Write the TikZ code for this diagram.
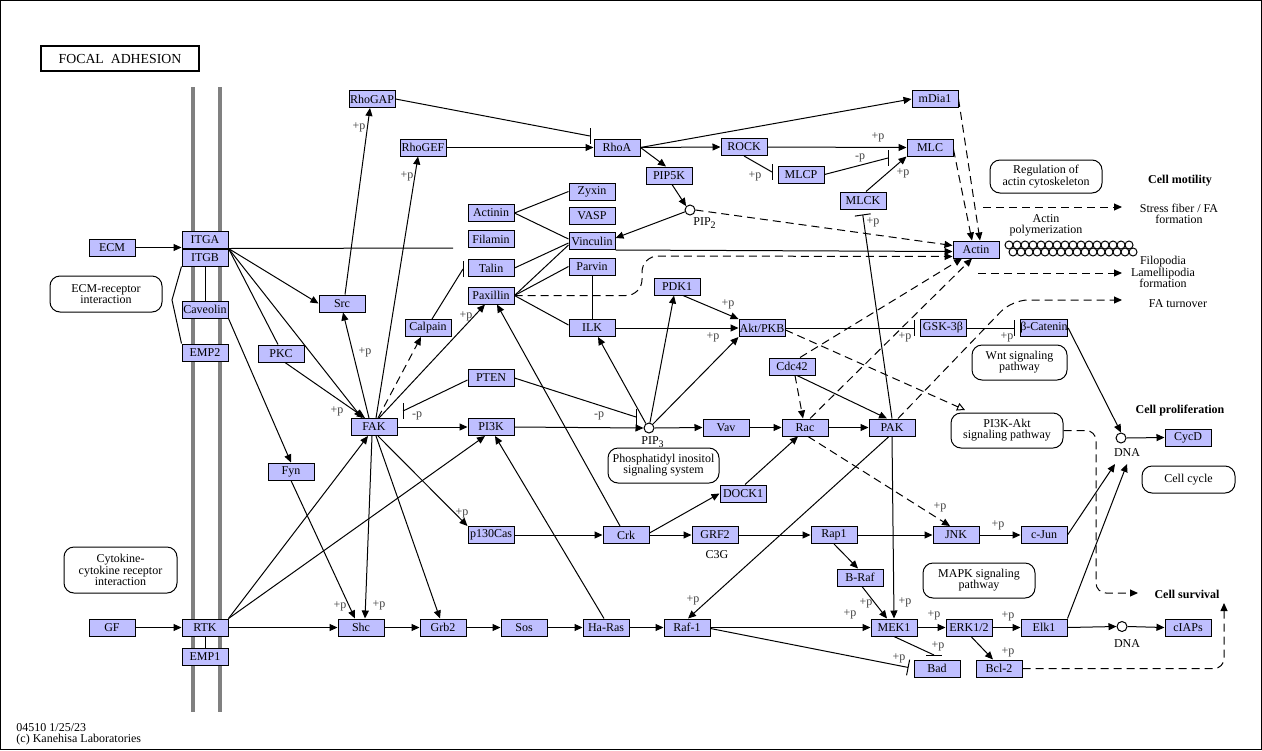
\documentclass[tikz,border=0pt]{standalone}
\usepackage{fontspec}
\setmainfont{Liberation Serif}
\usetikzlibrary{arrows.meta,calc,positioning}
\definecolor{genefill}{RGB}{191,191,255}
\definecolor{membrane}{RGB}{128,128,128}
\newcommand{\inhbar}[1]{\draw ($(#1)+(0,-8)$) -- ($(#1)+(0,8)$);}
\newcommand{\flatbar}[1]{\draw ($(#1)+(-8,0)$) -- ($(#1)+(8,0)$);}
\tikzset{
  gene/.style={draw, fill=genefill, minimum width=23pt, minimum height=8.5pt, inner sep=0pt, font=\fontsize{6}{7}\selectfont},
  cpd/.style={draw, circle, minimum size=5pt, inner sep=0pt, fill=white},
  pmap/.style={draw, rounded corners=5pt, align=center, inner sep=0pt, font=\fontsize{6}{5.6}\selectfont},
  txt/.style={align=center, inner sep=0pt, font=\fontsize{6}{5.6}\selectfont},
  boldlab/.style={inner sep=0pt, font=\fontsize{6}{7}\selectfont\bfseries},
  plab/.style={inner sep=0pt, text=black!75, font=\fontsize{6}{7}\selectfont},
  act/.style={-{Triangle[length=4pt,width=3.5pt]}},
  dact/.style={act, dash pattern=on 4pt off 2.5pt},
  inh/.style={-{Bar[width=8pt]}, shorten >=2.5pt},
}

\begin{document}
\begin{tikzpicture}[x=0.5pt, y=-0.5pt, line width=0.5pt]
    \useasboundingbox (0,0) rectangle (1262,750);
    \draw (0.5,0.5) rectangle (1261.5,749.5);
    \node[draw, line width=1pt, minimum width=79pt, minimum height=12.5pt, inner sep=0pt, font=\fontsize{6.9}{8}\selectfont] (title) at (120,58.5) {FOCAL\ \ ADHESION};

    \draw[membrane, line width=2pt] (193,87) -- (193,712);
    \draw[membrane, line width=2pt] (220,87) -- (220,712);

    % genes
    \node[gene] (ECM) at (112,247.5) {ECM};
    \node[gene] (ITGA) at (205,239.5) {ITGA};
    \node[gene] (ITGB) at (205,257.5) {ITGB};
    \node[gene] (Caveolin) at (205,309.5) {Caveolin};
    \node[gene] (EMP2) at (205,352.5) {EMP2};
    \node[gene] (PKC) at (281,353.5) {PKC};
    \node[gene] (Fyn) at (291,471.5) {Fyn};
    \node[gene] (Src) at (342,303.5) {Src};
    \node[gene] (RhoGAP) at (372,99) {RhoGAP};
    \node[gene] (RhoGEF) at (423,147.5) {RhoGEF};
    \node[gene] (Calpain) at (428,328) {Calpain};
    \node[gene] (FAK) at (374,427) {FAK};
    \node[gene] (Actinin) at (491,213) {Actinin};
    \node[gene] (Filamin) at (491,239) {Filamin};
    \node[gene] (Talin) at (491,268) {Talin};
    \node[gene] (Paxillin) at (491,295.5) {Paxillin};
    \node[gene] (PTEN) at (491,378) {PTEN};
    \node[gene] (PI3K) at (491,427) {PI3K};
    \node[gene] (Zyxin) at (592,191.5) {Zyxin};
    \node[gene] (VASP) at (592,216) {VASP};
    \node[gene] (Vinculin) at (592,241) {Vinculin};
    \node[gene] (Parvin) at (592,266.5) {Parvin};
    \node[gene] (ILK) at (592,328) {ILK};
    \node[gene] (RhoA) at (617,147.5) {RhoA};
    \node[gene] (PIP5K) at (669,175.5) {PIP5K};
    \node[gene] (ROCK) at (744,147) {ROCK};
    \node[gene] (MLCP) at (801,174.5) {MLCP};
    \node[gene] (MLC) at (930,147.5) {MLC};
    \node[gene] (mDia1) at (935,99) {mDia1};
    \node[gene] (MLCK) at (863,200.5) {MLCK};
    \node[gene] (Actin) at (976,249.5) {Actin};
    \node[gene] (PDK1) at (677,286.5) {PDK1};
    \node[gene] (Akt) at (762,328) {Akt/PKB};
    \node[gene] (Cdc42) at (792,366.5) {Cdc42};
    \node[gene] (GSK) at (943,328) {GSK-3β};
    \node[gene] (Bcat) at (1044,328) {β-Catenin};
    \node[gene] (Vav) at (726,427.5) {Vav};
    \node[gene] (Rac) at (805,427.5) {Rac};
    \node[gene] (PAK) at (892,427.5) {PAK};
    \node[gene] (DOCK1) at (743,493.5) {DOCK1};
    \node[gene] (p130Cas) at (491,535) {p130Cas};
    \node[gene] (Crk) at (626,535) {Crk};
    \node[gene] (GRF2) at (715,535) {GRF2};
    \node[gene] (Rap1) at (834,535) {Rap1};
    \node[gene] (BRaf) at (860,577.5) {B-Raf};
    \node[gene] (JNK) at (956,535) {JNK};
    \node[gene] (cJun) at (1044,535) {c-Jun};
    \node[gene] (GF) at (112,627.5) {GF};
    \node[gene] (RTK) at (205,627.5) {RTK};
    \node[gene] (EMP1) at (205,656.5) {EMP1};
    \node[gene] (Shc) at (361,627.5) {Shc};
    \node[gene] (Grb2) at (443,627.5) {Grb2};
    \node[gene] (Sos) at (524,627.5) {Sos};
    \node[gene] (HaRas) at (606,627.5) {Ha-Ras};
    \node[gene] (Raf1) at (687,627.5) {Raf-1};
    \node[gene] (MEK1) at (894,627.5) {MEK1};
    \node[gene] (ERK) at (969,627.5) {ERK1/2};
    \node[gene] (Elk1) at (1044,627.5) {Elk1};
    \node[gene] (Bad) at (937,668.5) {Bad};
    \node[gene] (Bcl2) at (999,668.5) {Bcl-2};
    \node[gene] (cIAPs) at (1188,627.5) {cIAPs};
    \node[gene] (CycD) at (1188,437.5) {CycD};

    % compounds
    \node[cpd] (PIP2) at (690,210) {};
    \node[txt] (pip2lab) at (705,223) {PIP\textsubscript{2}};
    \node[cpd] (PIP3) at (649,428) {};
    \node[txt] (pip3lab) at (653,442) {PIP\textsubscript{3}};
    \node[cpd] (DNA1) at (1121,438) {};
    \node[txt] (dna1lab) at (1127,453) {DNA};
    \node[cpd] (DNA2) at (1122,626.5) {};
    \node[txt] (dna2lab) at (1127,644) {DNA};
    \node[txt] (c3g) at (717,555) {C3G};

    % pathway maps
    \node[pmap, minimum width=56pt, minimum height=18pt] (ECMmap) at (106,294) {ECM-receptor\\interaction};
    \node[pmap, minimum width=56.5pt, minimum height=23pt] (Cytomap) at (120.5,570) {Cytokine-\\cytokine receptor\\interaction};
    \node[pmap, minimum width=55.5pt, minimum height=17.5pt] (PImap) at (663.5,465.5) {Phosphatidyl inositol\\signaling system};
    \node[pmap, minimum width=56pt, minimum height=16.5pt] (Actmap) at (1046,176.5) {Regulation of\\actin cytoskeleton};
    \node[pmap, minimum width=47.5pt, minimum height=17.5pt] (Wntmap) at (1019.5,362.5) {Wnt signaling\\pathway};
    \node[pmap, minimum width=56pt, minimum height=17.5pt] (PI3Kmap) at (1007,430.5) {PI3K-Akt\\signaling pathway};
    \node[pmap, minimum width=46.5pt, minimum height=13.5pt] (CCmap) at (1188.5,479.5) {Cell cycle};
    \node[pmap, minimum width=56pt, minimum height=17.5pt] (MAPKmap) at (979,580.5) {MAPK signaling\\pathway};

    % outcomes
    \node[boldlab] (motil) at (1180,181) {Cell motility};
    \node[txt] (stress) at (1179,214) {Stress fiber / FA\\formation};
    \node[txt] (poly) at (1046,225) {Actin\\polymerization};
    \node[txt] (filo) at (1163,272) {Filopodia\\Lamellipodia\\formation};
    \node[txt] (faturnlab) at (1178,304) {FA turnover};
    \node[boldlab] (prolif) at (1180,411) {Cell proliferation};
    \node[boldlab] (surv) at (1187,594) {Cell survival};
    \node[txt, anchor=west] (mapid) at (16,728) {04510 1/25/23};
    \node[txt, anchor=west] (copy) at (16,739.5) {(c) Kanehisa Laboratories};

    % integrin side
    \draw[act] (ECM.east) -- (ECM.east -| ITGA.west);
    \coordinate (itgend) at (453,248);
    \draw (ITGA.south east) -- (itgend);
    \draw[act] (ITGB.north east) -- (Src.west);
    \draw[act] (ITGB.north east) -- ($(FAK.north)+(-12,0)$);
    \draw (ITGB.north east) -- ($(PKC.north)+(-3,0)$);
    \draw[act] ($(PKC.south)+(4,0)$) -- ($(FAK.north)+(-9,0)$);
    \draw (ITGB.south west) -- (172,300) -- (EMP2.north west);
    \draw (ITGB.south) -- (Caveolin.north);
    \draw[act] (Caveolin.south east) -- (Fyn.north);
    \draw[act] ($(FAK.north)+(-5,0)$) -- ($(Src.south)+(1,0)$);
    \draw[act] ($(Src.north)+(3,0)$) -- ($(RhoGAP.south)+(-2,0)$);
    \draw[act] ($(FAK.north)+(2,0)$) -- ($(RhoGEF.south)+(-5,0)$);
    \draw[dact] ($(FAK.north)+(4,0)$) -- ($(Calpain.south)+(-7,0)$);
    \coordinate (talbar) at (463,269);
    \draw ($(Calpain.north)+(4,0)$) -- (talbar);
    \inhbar{talbar}
    \draw[act] ($(FAK.north)+(5,0)$) -- ($(Paxillin.south)+(-6,0)$);
    \draw[act] (FAK.east) -- (PI3K.west);
    \coordinate (ptenbar) at (403,411);
    \draw ($(PTEN.west)+(0,2)$) -- (ptenbar);
    \inhbar{ptenbar}
    \coordinate (pipbar) at (636,417);
    \draw (PTEN.east) -- (pipbar);
    \inhbar{pipbar}
    \draw[act] (PI3K.east) -- (PIP3.west);
    \draw[act] ($(FAK.south)+(-2,0)$) -- ($(Shc.north)+(4,0)$);
    \draw[act] (Fyn.south) -- ($(Shc.north)+(-6,0)$);
    \draw[act] ($(FAK.south)+(2,0)$) -- ($(Grb2.north)+(-3,0)$);
    \draw[act] ($(FAK.south)+(4,0)$) -- (p130Cas.north west);
    \draw[act] (RTK.north east) -- ($(FAK.south)+(-6,0)$);
    \draw[act] (RTK.north east) -- ($(PI3K.south)+(-6,0)$);
    \draw[act] (RTK.east) -- (Shc.west);
    \draw[act] (GF.east) -- (RTK.west);
    \draw (RTK.south) -- (EMP1.north);

    % ras / mapk
    \draw[act] (Shc.east) -- (Grb2.west);
    \draw[act] (Grb2.east) -- (Sos.west);
    \draw[act] (Sos.east) -- (HaRas.west);
    \draw[act] (HaRas.east) -- (Raf1.west);
    \draw[act] ($(HaRas.north)+(-2,0)$) -- ($(PI3K.south)+(4,0)$);
    \draw[act] ($(Crk.north)+(-6,0)$) -- ($(Paxillin.south)+(6,0)$);
    \draw[act] (p130Cas.east) -- (Crk.west);
    \draw[act] ($(Crk.east)+(0,-2)$) -- (DOCK1.west);
    \draw[act] (Crk.east) -- (GRF2.west);
    \draw[act] ($(DOCK1.north)+(2,0)$) -- ($(Rac.south)+(-7,0)$);
    \draw[act] (GRF2.east) -- (Rap1.west);
    \draw[act] (Rap1.east) -- (JNK.west);
    \draw[act] (Rap1.south) -- ($(BRaf.north)+(-2,0)$);
    \draw[act] ($(BRaf.south)+(2,0)$) -- ($(MEK1.north)+(-7,0)$);
    \draw[act] (PAK.south) -- (MEK1.north);
    \draw[act] ($(PAK.south)+(-3,0)$) -- ($(Raf1.north)+(1,0)$);
    \draw[act] (Raf1.east) -- (MEK1.west);
    \draw[inh] ($(Raf1.east)+(0,1)$) -- (Bad.west);
    \coordinate (badbar) at (934,655);
    \draw (MEK1.south) -- (badbar);
    \flatbar{badbar}
    \draw[act] (MEK1.east) -- (ERK.west);
    \draw[act] (ERK.east) -- (Elk1.west);
    \draw[act] ($(ERK.south)+(2,0)$) -- ($(Bcl2.north)+(-6,0)$);
    \draw[act] (Elk1.east) -- (DNA2.west);
    \draw[act] (DNA2.east) -- (cIAPs.west);
    \coordinate (dnain1) at (1115,464);
    \coordinate (dnain2) at (1127,464);
    \draw[act] (cJun.east) -- (dnain1);
    \draw[act] (Elk1.north east) -- (dnain2);
    \draw[act] (Bcat.east) -- (DNA1.north);
    \draw[act] (DNA1.east) -- (CycD.west);
    \draw[act] (JNK.east) -- (cJun.west);
    \coordinate (survtip) at (1224,603);
    \draw[dact, rounded corners=5pt] (Bcl2.east) -- (Bcl2.east -| survtip) -- (survtip);
    \coordinate (survtip2) at (1138,593);
    \draw[dact, rounded corners=5pt] (PI3Kmap.east) -- (1096,430.5) -- (1096,593) -- (survtip2);

    % pi3k / rho
    \draw[dact] ($(Rac.south)+(3,0)$) -- ($(JNK.north)+(-6,0)$);
    \draw[act] (Rac.east) -- (PAK.west);
    \draw[act] (Vav.east) -- (Rac.west);
    \draw[act] (PIP3.east) -- (Vav.west);
    \draw[act] (PIP3.80) -- ($(PDK1.south)+(-3,0)$);
    \draw[act] (PIP3.45) -- (Akt.south west);
    \draw[act] (PIP3.125) -- ($(ILK.south)+(6,0)$);
    \draw[act] ($(PDK1.south)+(6,0)$) -- (Akt.north west);
    \draw[act] (ILK.east) -- (Akt.west);
    \draw (Paxillin.east) -- ($(ILK.west)+(0,-3)$);
    \draw (Parvin.south) -- (ILK.north);
    \draw[inh] (Akt.east) -- (GSK.west);
    \draw[inh] (GSK.east) -- (Bcat.west);
    \coordinate (pitip) at (965,410);
    \draw[-{Triangle[open,length=4pt,width=4pt]}, dash pattern=on 4pt off 2.5pt] ($(Akt.east)+(0,2)$) -- (pitip);
    \draw[dact] ($(Cdc42.south)+(3,0)$) -- ($(Rac.north)+(-2,0)$);
    \draw[act] ($(Cdc42.south)+(5,0)$) -- ($(PAK.north)+(-5,0)$);
    \draw[dact] ($(Cdc42.north)+(8,0)$) -- ($(Actin.south)+(-14,0)$);
    \draw[dact] ($(Rac.north)+(5,0)$) -- ($(Actin.south)+(-4,0)$);
    \coordinate (faturn) at (1122,300);
    \draw[dact, rounded corners=8pt] ($(PAK.north)+(6,0)$) -- (1012,300) -- (faturn);
    \draw[inh] (PAK.north) -- ($(MLCK.south)+(-1,0)$);
    \draw[act] ($(MLCK.north)+(3,0)$) -- (MLC.south west);
    \draw[act] (ROCK.east) -- (MLC.west);
    \coordinate (mlcpbar) at (772,172);
    \draw (ROCK.south) -- (mlcpbar);
    \inhbar{mlcpbar}
    \coordinate (mlcbar) at (888,158);
    \draw (MLCP.east) -- (mlcbar);
    \inhbar{mlcbar}
    \draw[act] (RhoA.east) -- (ROCK.west);
    \draw[act] (RhoA.east) -- (mDia1.west);
    \draw[act] (RhoA.east) -- ($(PIP5K.north)+(-3,0)$);
    \draw[act] ($(PIP5K.south)+(3,0)$) -- (PIP2.north west);
    \draw[act] (PIP2.200) -- ($(Vinculin.east)+(0,-3)$);
    \draw[dact] (PIP2.east) -- ($(Actin.west)+(0,-4)$);
    \draw[act] (Vinculin.south east) -- ($(Actin.west)+(0,2)$);
    \draw[dact, rounded corners=8pt] (Paxillin.east) -- (642,295.5) -- (642,256) -- ($(Actin.south west)+(0,-2)$);
    \draw[act] (RhoGEF.east) -- (RhoA.west);
    \coordinate (gapbar) at (590,136);
    \draw (RhoGAP.east) -- (gapbar);
    \inhbar{gapbar}
    \draw[dact] (mDia1.east) -- ($(Actin.north)+(4,0)$);
    \draw[dact] ($(MLC.east)+(0,2)$) -- ($(Actin.north)+(-4,0)$);
    \draw (Actinin.east) -- (Zyxin.west);
    \draw (Actinin.east) -- ($(Vinculin.west)+(0,-2)$);
    \draw (Talin.east) -- ($(Vinculin.west)+(0,2)$);
    \draw (Paxillin.east) -- ($(Vinculin.west)+(0,4)$);
    \draw (Paxillin.east) -- (Parvin.west);

    % cytoskeleton outputs
    \coordinate (sfa0) at (983,207);
    \coordinate (sfa1) at (1122,207);
    \draw[dact] (sfa0) -- (sfa1);
    \coordinate (fil0) at (978,273);
    \coordinate (fil1) at (1122,273);
    \draw[dact] (fil0) -- (fil1);
    \foreach \i in {0,...,15} {
        \draw[fill=white] (1009+8*\i,245) circle (2pt);
        \draw[fill=white] (1013+8*\i,252) circle (2pt);
    }

    % phosphorylation labels
    \foreach \pos/\sgn [count=\k] in {{359,127}/+p, {407,176}/+p, {365,352}/+p, {337,411}/+p,
        {466,316}/+p, {417,416}/-p, {599,416}/-p, {379,605}/+p, {340,606}/+p, {462,513}/+p,
        {755,176}/+p, {860,158}/-p, {878,137}/+p, {903,173}/+p, {873,222}/+p, {728,304}/+p,
        {713,337}/+p, {905,337}/+p, {1007,337}/+p, {940,507}/+p, {998,525}/+p, {693,600}/+p,
        {866,603}/+p, {905,602}/+p, {850,614}/+p, {899,658}/+p, {934,615}/+p, {938,646}/+p,
        {1008,616}/+p, {1008,652}/+p}
        \node[plab] (p\k) at (\pos) {\sgn};
\end{tikzpicture}
\end{document}
